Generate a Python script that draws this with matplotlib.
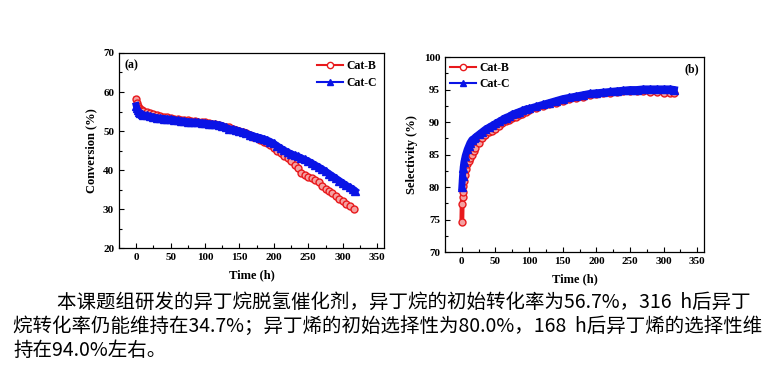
import matplotlib.pyplot as plt
from matplotlib.ticker import MultipleLocator

# conversion (%) vs time (h)
conv_t_b = [0, 1, 2, 4, 6, 8, 10, 15, 20, 25, 30, 35, 40, 45, 50, 55, 60, 65, 70, 75, 80, 85, 90, 95, 100,
            105, 110, 115, 120, 125, 130, 135, 140, 145, 150, 155, 160, 165, 170, 175, 180, 185, 190, 195, 200,
            205, 210, 215, 220, 225, 230, 235, 240, 245, 250, 255, 260, 265, 270, 275, 280, 285, 290, 295, 300,
            305, 310, 316]
conv_b = [58.3, 57.2, 56.5, 56.0, 55.7, 55.4, 55.2, 54.9, 54.6, 54.3, 54.1, 53.9, 53.7, 53.5, 53.3, 53.2, 53.0,
          52.9, 52.8, 52.7, 52.6, 52.5, 52.4, 52.3, 52.2, 52.0, 51.9, 51.7, 51.5, 51.3, 51.1, 50.9, 50.6, 50.3,
          50.0, 49.7, 49.4, 49.0, 48.5, 48.1, 47.7, 47.3, 46.8, 46.3, 45.7, 45.0, 44.4, 43.7, 43.0, 42.2, 41.3,
          40.5, 39.2, 38.6, 38.3, 38.0, 37.5, 36.8, 36.0, 35.2, 34.6, 34.0, 33.3, 32.6, 32.0, 31.3, 30.7, 30.0]
conv_t_c = [0, 1, 2, 4, 6, 8, 10, 15, 20, 25, 30, 35, 40, 45, 50, 55, 60, 65, 70, 75, 80, 85, 90, 95, 100,
            105, 110, 115, 120, 125, 130, 135, 140, 145, 150, 155, 160, 165, 170, 175, 180, 185, 190, 195, 200,
            205, 210, 215, 220, 225, 230, 235, 240, 245, 250, 255, 260, 265, 270, 275, 280, 285, 290, 295, 300,
            305, 310, 315, 318]
conv_c = [56.5, 55.8, 55.3, 54.9, 54.6, 54.4, 54.2, 54.0, 53.8, 53.6, 53.4, 53.3, 53.2, 53.1, 53.0, 52.9, 52.7,
          52.6, 52.5, 52.4, 52.3, 52.3, 52.2, 52.1, 52.0, 51.9, 51.8, 51.7, 51.6, 51.4, 50.9, 50.6, 50.4, 50.2,
          50.0, 49.7, 49.4, 49.1, 48.8, 48.5, 48.3, 48.0, 47.7, 47.3, 46.8, 46.2, 45.6, 45.1, 44.6, 44.2, 43.8,
          43.5, 43.1, 42.7, 42.3, 41.8, 41.3, 40.8, 40.3, 39.7, 39.1, 38.5, 37.9, 37.3, 36.7, 36.1, 35.6, 35.1,
          34.7]

# selectivity (%) vs time (h)
sel_t_b = [0, 0.5, 1, 1.5, 2, 3, 4, 6, 8, 10, 12, 15, 18, 20, 25, 30, 35, 40, 45, 50, 55, 60, 65, 70, 75, 80,
           85, 90, 95, 100, 110, 120, 130, 140, 150, 160, 170, 180, 190, 200, 210, 220, 230, 240, 250, 260, 270,
           280, 290, 300, 310, 316]
sel_b = [74.7, 77.4, 78.5, 79.3, 80.2, 81.0, 81.8, 82.8, 83.5, 84.0, 84.5, 85.0, 85.6, 86.0, 86.8, 87.5, 88.0,
         88.4, 88.7, 89.0, 89.4, 89.8, 90.1, 90.3, 90.6, 90.8, 91.1, 91.3, 91.6, 91.8, 92.2, 92.5, 92.8, 93.0,
         93.3, 93.5, 93.7, 93.9, 94.1, 94.3, 94.4, 94.5, 94.6, 94.7, 94.7, 94.7, 94.7, 94.6, 94.6, 94.5, 94.5,
         94.4]
sel_t_c = [0, 1, 2, 3, 5, 8, 10, 12, 15, 18, 20, 25, 30, 35, 40, 45, 50, 55, 60, 65, 70, 75, 80, 85, 90, 95,
           100, 110, 120, 130, 140, 150, 160, 170, 180, 190, 200, 210, 220, 230, 240, 250, 260, 270, 280, 290,
           300, 310, 316]
sel_c = [80.0, 81.7, 83.0, 83.8, 84.8, 85.8, 86.3, 86.8, 87.3, 87.5, 87.7, 88.1, 88.5, 88.9, 89.2, 89.5, 89.8,
         90.1, 90.4, 90.7, 90.9, 91.2, 91.4, 91.6, 91.8, 92.0, 92.1, 92.4, 92.7, 93.0, 93.3, 93.6, 93.8, 94.0,
         94.2, 94.4, 94.5, 94.6, 94.7, 94.8, 94.9, 95.0, 95.0, 95.1, 95.1, 95.1, 95.1, 95.1, 95.0]

caption = ["本课题组研发的异丁烷脱氢催化剂，异丁烷的初始转化率为56.7%，316  h后异丁",
           "烷转化率仍能维持在34.7%；异丁烯的初始选择性为80.0%，168  h后异丁烯的选择性维",
           "持在94.0%左右。"]

plt.rcParams['font.family'] = ['Liberation Serif', 'DejaVu Serif']
plt.rcParams['font.weight'] = 'bold'

fig = plt.figure(figsize=(7.81, 3.68), dpi=100)
ax1 = fig.add_axes([0.1524, 0.326, 0.3393, 0.530])
ax2 = fig.add_axes([0.5698, 0.315, 0.3316, 0.530])

red = '#e8191c'
blue = '#0a14e6'

def style_axis(ax, ylabel):
    ax.set_xlim(-25, 360)
    ax.xaxis.set_major_locator(MultipleLocator(50))
    ax.xaxis.set_minor_locator(MultipleLocator(25))
    ax.tick_params(which='both', direction='in', top=False, right=False, labelsize=8, width=0.8)
    ax.tick_params(which='major', length=3.5)
    ax.tick_params(which='minor', length=2)
    for lb in ax.get_xticklabels() + ax.get_yticklabels():
        lb.set_fontweight('bold')
    for sp in ax.spines.values():
        sp.set_linewidth(0.9)
    ax.set_xlabel('Time (h)', fontsize=9, fontweight='bold', labelpad=5)
    ax.set_ylabel(ylabel, fontsize=9, fontweight='bold', labelpad=4)

ax1.plot(conv_t_b, conv_b, '-o', color=red, mfc='#f4a0a0', mec=red, ms=5, mew=1.0, lw=3.5, label='Cat-B')
ax1.plot(conv_t_c, conv_c, '-^', color=blue, mfc=blue, mec=blue, ms=6, lw=5, label='Cat-C')
ax1.set_ylim(20, 70)
ax1.yaxis.set_major_locator(MultipleLocator(10))
ax1.yaxis.set_minor_locator(MultipleLocator(5))
style_axis(ax1, 'Conversion (%)')
ax1.text(0.02, 0.97, '(a)', transform=ax1.transAxes, ha='left', va='top', fontsize=8.5, fontweight='bold')
ax1.legend(loc='upper right', frameon=False, fontsize=8.5, handlelength=2.2, handletextpad=0.3,
           labelspacing=0.4, borderaxespad=0.2)

ax2.plot(sel_t_b, sel_b, '-o', color=red, mfc='#f4a0a0', mec=red, ms=5, mew=1.0, lw=3.5, label='Cat-B')
ax2.plot(sel_t_c, sel_c, '-^', color=blue, mfc=blue, mec=blue, ms=6, lw=5, label='Cat-C')
ax2.set_ylim(70, 100)
ax2.yaxis.set_major_locator(MultipleLocator(5))
ax2.yaxis.set_minor_locator(MultipleLocator(2.5))
style_axis(ax2, 'Selectivity (%)')
ax2.text(0.98, 0.97, '(b)', transform=ax2.transAxes, ha='right', va='top', fontsize=8.5, fontweight='bold')
leg = ax2.legend(loc='upper left', frameon=False, fontsize=8.5, handlelength=2.2, handletextpad=0.3,
                 labelspacing=0.4, borderaxespad=0.0)

# legend handles: thin line, normal markers
for lg in (ax1.get_legend(), leg):
    for h in lg.get_lines():
        h.set_linewidth(1.5)
        h.set_markersize(4.5)
        if h.get_marker() == 'o':
            h.set_markerfacecolor('white')

cjk = ['Noto Sans CJK SC', 'DejaVu Sans']
fig.text(57 / 781, 1 - 302 / 368, caption[0], family=cjk, fontsize=14, fontweight='normal', va='center')
fig.text(13 / 781, 1 - 326 / 368, caption[1], family=cjk, fontsize=14, fontweight='normal', va='center')
fig.text(13 / 781, 1 - 350 / 368, caption[2], family=cjk, fontsize=14, fontweight='normal', va='center')

fig.savefig('out.png', dpi=100)
